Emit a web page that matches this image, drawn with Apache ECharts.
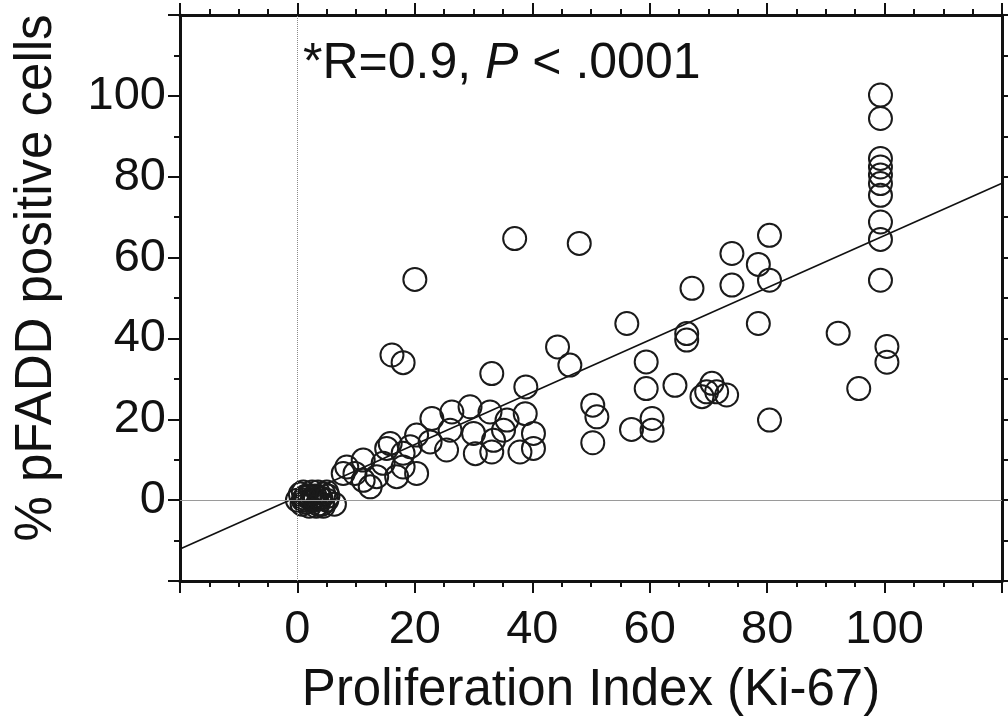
<!DOCTYPE html>
<html>
<head>
<meta charset="utf-8">
<script src="https://cdn.jsdelivr.net/npm/echarts@6/dist/echarts.min.js"></script>
<style>
html,body{margin:0;padding:0;background:#fff;}
#chart{width:1008px;height:725px;}
</style>
</head>
<body>
<div id="chart"></div>
<script>
// Proliferation index (Ki-67) values
const kiValues = [
  0, 0.5, 1, 1, 1.5, 2, 2.5, 2.5, 3, 3.5, 3.5, 4, 4.5, 5, 5, 1.5, 3, 4.2, 6.3,
  0.8, 2, 3.2, 4.4, 1.2, 2.8, 3.8, 5.2,
  7.8, 8.4, 9.8, 11.2, 11.2, 12.4, 13.5, 14.6, 15.2, 15.8, 16.9, 18.0, 18.0, 19.2, 20.3, 20.3, 22.6,
  16.1, 18.0, 20.0, 22.9, 26.3, 29.4, 32.8, 35.7, 38.8, 40.2, 40.2, 37.9, 33.1, 30.3, 33.4, 35.1, 30.0, 26.0, 25.4,
  33.1, 38.9, 37.0, 48.0, 44.3, 46.4, 50.3, 51.0, 50.3,
  56.1, 56.9, 59.4, 59.4, 60.4, 60.4, 64.3, 66.3, 66.3, 67.2, 68.9, 69.7, 70.6, 71.4, 73.1,
  74.0, 74.0, 78.5, 78.5, 80.4, 80.4, 80.4, 92.1, 95.6, 100.4, 100.4,
  99.3, 99.3, 99.3, 99.3, 99.3, 99.3, 99.3, 99.3, 99.3, 99.3
];
// % pFADD positive cells
const pfaddValues = [
  0, 1.5, 0, 2, -0.5, 1, 0, 2, 1, -1, 2, 0.5, 1.5, 0, 2, 1, 0, -1, -1,
  -1, -1.5, -1.5, -1.5, 0.5, 0.5, 0.5, 1,
  6.6, 8.2, 6.6, 9.9, 4.9, 3.3, 5.8, 9.1, 12.8, 14.0, 5.8, 8.2, 11.6, 13.2, 6.6, 16.1, 14.4,
  35.9, 34.0, 54.6, 20.2, 21.8, 23.1, 21.8, 19.8, 21.4, 16.5, 12.8, 11.9, 11.9, 11.5, 14.8, 17.3, 16.5, 17.3, 12.4,
  31.3, 28.0, 64.7, 63.5, 37.9, 33.4, 23.5, 20.6, 14.2,
  43.7, 17.5, 34.2, 27.6, 20.2, 17.3, 28.4, 41.2, 39.6, 52.4, 25.6, 26.8, 28.9, 26.8, 26.0,
  61.0, 53.2, 58.3, 43.7, 65.5, 54.4, 19.8, 41.3, 27.6, 38.0, 34.1,
  100.2, 94.4, 84.5, 82.4, 80.4, 78.3, 75.4, 68.8, 64.5, 54.4
];
// Regression line end points
const fitLine = [[-20, -12.1], [120, 78.4]];
const xTickLabels = [0, 20, 40, 60, 80, 100];
const yTickLabels = [0, 20, 40, 60, 80, 100];
const xTitle = 'Proliferation Index (Ki-67)';
const yTitle = '% pFADD positive cells';

const points = kiValues.map((v, i) => [v, pfaddValues[i]]);
const FONT = '"Liberation Sans", Arial, sans-serif';
const black = '#111';

function makeAxis(pos, showLabels, minorSplit, labels, margin) {
  return {
    type: 'value', min: -20, max: 120, interval: 20, position: pos,
    axisLine: { show: true, onZero: false, lineStyle: { color: black, width: 3 } },
    axisTick: { show: true, inside: false, length: 12, lineStyle: { color: black, width: 2 } },
    minorTick: { show: true, splitNumber: minorSplit, length: 6, lineStyle: { color: black, width: 2 } },
    splitLine: { show: false },
    minorSplitLine: { show: false },
    axisLabel: {
      show: showLabels, margin: margin, color: black, fontSize: 47, fontFamily: FONT,
      formatter: v => labels.indexOf(v) >= 0 ? String(v) : ''
    }
  };
}

const chart = echarts.init(document.getElementById('chart'), null, { renderer: 'canvas' });
chart.setOption({
  animation: false,
  backgroundColor: '#fff',
  grid: { left: 180, top: 15, right: 6, bottom: 144, containLabel: false, outerBoundsMode: 'none' },
  xAxis: [
    Object.assign(makeAxis('bottom', true, 4, xTickLabels, 26), {
      name: xTitle, nameLocation: 'middle', nameGap: 84,
      nameTextStyle: { fontSize: 51, color: black, fontFamily: FONT }
    }),
    makeAxis('top', false, 4, xTickLabels, 8)
  ],
  yAxis: [
    Object.assign(makeAxis('left', true, 2, yTickLabels, 14), {
      name: yTitle, nameLocation: 'middle', nameGap: 118,
      nameTextStyle: { fontSize: 51, color: black, fontFamily: FONT, padding: [0, 0, 0, 40] }
    }),
    makeAxis('right', false, 2, yTickLabels, 8)
  ],
  title: {
    text: '{n|*R=0.9, }{i|P}{n| < .0001}',
    left: 298, top: 34,
    textStyle: {
      fontWeight: 'normal',
      rich: {
        n: { fontSize: 50, color: black, fontFamily: FONT, fontWeight: 'normal' },
        i: { fontSize: 50, color: black, fontFamily: FONT, fontWeight: 'normal', fontStyle: 'italic' }
      }
    }
  },
  series: [
    {
      type: 'scatter',
      xAxisIndex: 0, yAxisIndex: 0,
      data: points,
      symbol: 'circle',
      symbolSize: 23,
      itemStyle: { color: 'rgba(0,0,0,0)', borderColor: '#1a1a1a', borderWidth: 2, opacity: 1 },
      z: 3,
      markLine: {
        silent: true, symbol: 'none', animation: false,
        label: { show: false },
        data: [
          { xAxis: 0, lineStyle: { color: '#8a8a8a', width: 1, type: 'dotted' } },
          { yAxis: 0, lineStyle: { color: '#9a9a9a', width: 1, type: 'solid' } }
        ]
      }
    },
    {
      type: 'line',
      xAxisIndex: 0, yAxisIndex: 0,
      data: fitLine,
      symbol: 'none',
      lineStyle: { color: black, width: 1.6 },
      z: 2,
      clip: true
    }
  ]
});
</script>
</body>
</html>
